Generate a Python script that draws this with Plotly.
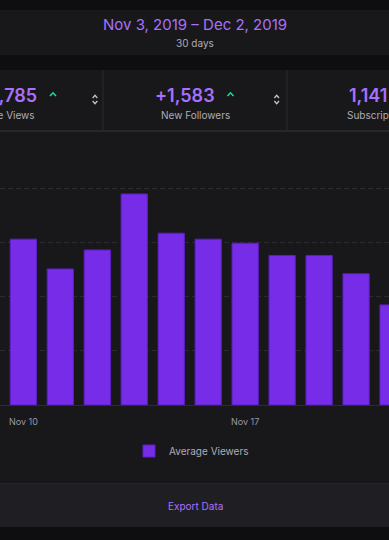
import plotly.graph_objects as go

# ---- data ----
# stream days shown as bar categories (one day between Nov 10 and Nov 17 has no bar)
days = ["2019-11-09", "2019-11-10", "2019-11-11", "2019-11-12", "2019-11-13", "2019-11-14",
        "2019-11-15", "2019-11-17", "2019-11-18", "2019-11-19", "2019-11-20", "2019-11-21"]
avg_viewers = [56.6, 61.3, 50.3, 57.3, 78.0, 63.5, 61.3, 59.8, 55.3, 55.3, 48.5, 37.0]
tick_vals = ["2019-11-10", "2019-11-17"]
tick_text = ["Nov 10", "Nov 17"]
series_name = "Average Viewers"
date_range_title = "Nov 3, 2019 – Dec 2, 2019"
period_text = "30 days"
stat_values = ["12,785", "+1,583", "1,141"]
stat_labels = ["Live Views", "New Followers", "Subscriptions"]
export_text = "Export Data"

W, H = 389, 540
TOP, BOTTOM = 140, 405          # plot area in pixels
PH = BOTTOM - TOP

def px(x):
    return x / W

def py(y):
    return (BOTTOM - y) / PH

BG = "#0e0e10"
PANEL = "#18181b"
EXPORT = "#1f1f23"
PURPLE = "#772ce8"
PURPLE_TXT = "#a970ff"
GRAY = "#adadb8"
FONT = "Inter"

fig = go.Figure()
fig.add_trace(go.Bar(
    x=days, y=avg_viewers, name=series_name,
    marker=dict(color=PURPLE, line=dict(color="#5c1fc4", width=1)),
    showlegend=True,
))

shapes = []
def rect(x0, y0, x1, y1, color):
    shapes.append(dict(type="rect", xref="paper", yref="paper", layer="below",
                       x0=px(x0), x1=px(x1), y0=py(y1), y1=py(y0),
                       fillcolor=color, line=dict(width=0)))

rect(0, 10, W, 55, PANEL)        # header
rect(0, 70, W, 130, PANEL)       # stats row
rect(0, 130, W, 132, "#26262b")  # border
rect(0, 132, W, 483, PANEL)      # chart panel
rect(0, 483, W, 484, "#26262b")
rect(0, 484, W, 527, EXPORT)     # export bar
rect(102.5, 70, 103.5, 130, "#2b2b30")
rect(286.5, 70, 287.5, 130, "#2b2b30")

def path(points, color, width):
    d = "M " + " L ".join(f"{px(a):.5f},{py(b):.5f}" for a, b in points)
    shapes.append(dict(type="path", xref="paper", yref="paper", path=d,
                       line=dict(color=color, width=width)))

# green up carets
for cx in (53, 230.5):
    path([(cx - 3, 96), (cx, 92.8), (cx + 3, 96)], "#1fd6a6", 1.6)
# sort icons
for cx in (95, 276.7):
    path([(cx - 2.3, 98), (cx, 95.3), (cx + 2.3, 98)], "#c4c4cc", 1.3)
    path([(cx - 2.3, 101), (cx, 103.7), (cx + 2.3, 101)], "#c4c4cc", 1.3)

ann = []
def text(s, x, y, size, color, anchor="center", weight=400):
    ann.append(dict(text=s, x=px(x), y=py(y), xref="paper", yref="paper",
                    xanchor=anchor, yanchor="middle", showarrow=False,
                    font=dict(family=FONT, size=size, color=color, weight=weight)))

text(date_range_title, 194.5, 24, 15, PURPLE_TXT)
text(period_text, 195, 43, 10, GRAY)
text(stat_values[0], 39, 95.5, 18, PURPLE_TXT, "right", 600)
text(stat_values[1], 184.5, 95.5, 18, PURPLE_TXT, "center", 600)
text(stat_values[2], 347, 95.5, 18, PURPLE_TXT, "left", 600)
text(stat_labels[0], 37, 115.5, 10, GRAY, "right")
text(stat_labels[1], 195.5, 115.5, 10, GRAY, "center")
text(stat_labels[2], 345, 115.5, 10, GRAY, "left")
text(export_text, 195.5, 506, 10, PURPLE_TXT)

pitch = 36.97
first_center = 23.35   # pixel centre of category index 1
y_unit = 54.1 / 20.0
fig.update_layout(
    width=W, height=H,
    margin=dict(l=0, r=0, t=TOP, b=H - BOTTOM, pad=0),
    paper_bgcolor=BG, plot_bgcolor="rgba(0,0,0,0)",
    bargap=0.29,
    shapes=shapes, annotations=ann,
    font=dict(family=FONT, color=GRAY),
    xaxis=dict(type="category",
               range=[1 - first_center / pitch, 1 + (W - first_center) / pitch],
               tickmode="array", tickvals=tick_vals, ticktext=tick_text, showgrid=False,
               showline=True, linecolor="#2c2c31", linewidth=1, ticks="",
               ticklabelstandoff=8,
               tickfont=dict(family=FONT, size=9, color="#9a9aa3"), fixedrange=True),
    yaxis=dict(range=[0, PH / y_unit], dtick=20, showticklabels=False,
               showgrid=True, gridcolor="#2a2a2f", gridwidth=1, griddash="5px,3px",
               zeroline=False, fixedrange=True),
    legend=dict(orientation="h", x=px(143 - 14), xanchor="left", y=py(451), yanchor="middle",
                bgcolor="rgba(0,0,0,0)", font=dict(family=FONT, size=10, color=GRAY)),
)

fig.write_html("out.html",
               config={"displayModeBar": False},
               post_script="document.body.style.margin='0';document.body.style.overflow='hidden';")
